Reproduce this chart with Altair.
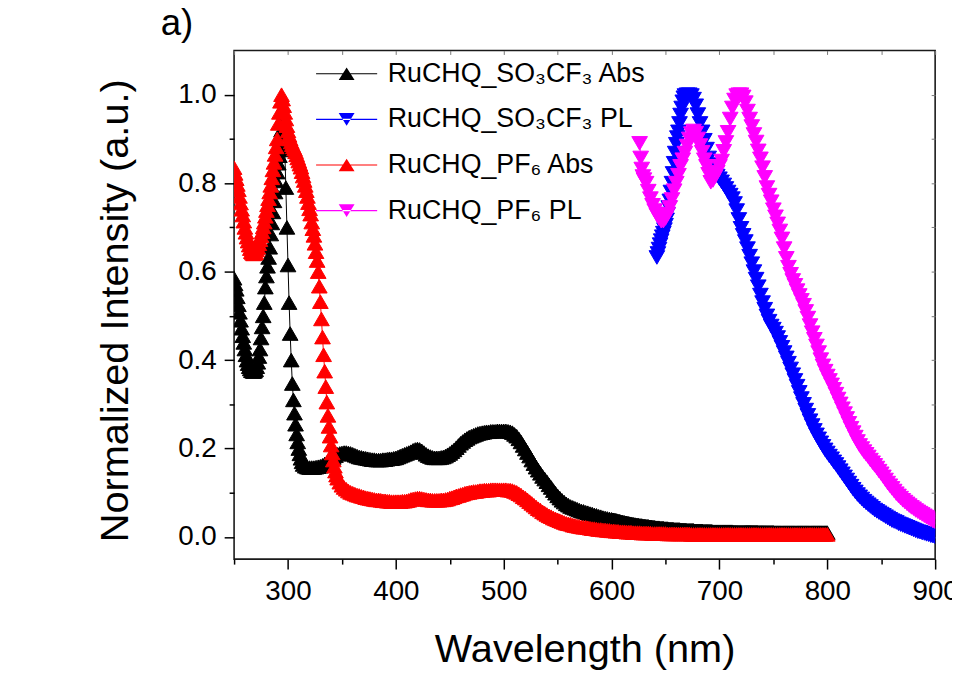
import altair as alt
import pandas as pd


def grid(a, b, step):
    return list(range(a, b + 1, step))


# ---------------- RuCHQ_SO3CF3 Abs (black) ----------------
so3_abs_nm = grid(250, 313, 1) + grid(314, 600, 2) + grid(601, 800, 1)
so3_abs_val = [
    0.585, 0.572, 0.560, 0.543, 0.525, 0.508, 0.490, 0.472, 0.455, 0.440,
    0.425, 0.412, 0.400, 0.392, 0.385, 0.380, 0.376, 0.375, 0.374,
    0.375, 0.378, 0.385, 0.395, 0.408, 0.425, 0.450, 0.475, 0.500, 0.530,
    0.565, 0.590, 0.612, 0.632, 0.655, 0.685, 0.710, 0.735, 0.760, 0.780,
    0.805, 0.825, 0.845, 0.862, 0.877, 0.920, 0.948, 0.910, 0.875, 0.790,
    0.700, 0.615, 0.530, 0.460, 0.400, 0.347, 0.310, 0.280, 0.255, 0.233,
    0.215, 0.200, 0.188, 0.178, 0.170,
    0.164, 0.160, 0.158, 0.157, 0.157, 0.157, 0.158, 0.159, 0.160, 0.162,
    0.165, 0.168, 0.172, 0.176, 0.180, 0.184, 0.187, 0.189, 0.190, 0.191,
    0.191, 0.190, 0.189, 0.187, 0.185, 0.183, 0.181, 0.180, 0.179, 0.178,
    0.177, 0.176, 0.175, 0.175, 0.174, 0.174, 0.174, 0.175, 0.175, 0.176,
    0.177, 0.177, 0.178, 0.179, 0.181, 0.183, 0.185, 0.187, 0.189, 0.191,
    0.193, 0.196, 0.198, 0.199, 0.198, 0.195, 0.191, 0.187, 0.184, 0.182,
    0.180, 0.179, 0.179, 0.179, 0.180, 0.181, 0.183, 0.186, 0.189, 0.193,
    0.197, 0.202, 0.207, 0.212, 0.216, 0.220, 0.223, 0.226, 0.228, 0.230,
    0.232, 0.234, 0.235, 0.236, 0.237, 0.238, 0.238, 0.239, 0.239, 0.239,
    0.240, 0.240, 0.240, 0.240, 0.240, 0.239, 0.238, 0.236, 0.232, 0.228,
    0.222, 0.215, 0.207, 0.199, 0.191, 0.183, 0.174, 0.166, 0.158, 0.151,
    0.144, 0.137, 0.131, 0.125, 0.118, 0.112, 0.105, 0.099, 0.093, 0.088,
    0.083, 0.079, 0.075, 0.072, 0.069, 0.067, 0.065, 0.063, 0.061, 0.059,
    0.058, 0.056, 0.055, 0.053, 0.052, 0.050, 0.049, 0.047, 0.046, 0.044,
    0.043, 0.042, 0.041, 0.040,
    0.039, 0.039, 0.038, 0.038, 0.037, 0.036, 0.036, 0.035, 0.034, 0.034,
    0.033, 0.033, 0.032, 0.032, 0.031, 0.031, 0.030, 0.030, 0.029, 0.029,
    0.028, 0.028, 0.027, 0.027, 0.027, 0.026, 0.026, 0.026, 0.025, 0.025,
    0.025, 0.024, 0.024, 0.024, 0.023, 0.023, 0.023, 0.022, 0.022, 0.022,
    0.021, 0.021, 0.021, 0.021, 0.020, 0.020, 0.020, 0.020, 0.019, 0.019,
    0.019, 0.019, 0.018, 0.018, 0.018, 0.018, 0.018, 0.017, 0.017, 0.017,
    0.017, 0.017, 0.017, 0.016, 0.016, 0.016, 0.016, 0.016, 0.016, 0.015,
    0.015, 0.015, 0.015, 0.015, 0.015, 0.015, 0.014, 0.014, 0.014, 0.014,
    0.014, 0.014, 0.014, 0.014, 0.013, 0.013, 0.013, 0.013, 0.013, 0.013,
    0.013, 0.013, 0.013, 0.012, 0.012, 0.012, 0.012, 0.012, 0.012, 0.012,
    0.012, 0.012, 0.012, 0.012, 0.012, 0.012, 0.012, 0.012, 0.012, 0.012,
    0.012, 0.012, 0.011, 0.011, 0.011, 0.011, 0.011, 0.011, 0.011, 0.011,
    0.011, 0.011, 0.011, 0.011, 0.011, 0.011, 0.011, 0.011, 0.011, 0.011,
    0.011, 0.011, 0.011, 0.011, 0.011, 0.0105, 0.0105, 0.0105, 0.0105, 0.0105,
    0.0105, 0.0105, 0.0105, 0.0105, 0.0105, 0.0105, 0.0105, 0.0105, 0.0105, 0.0105,
    0.010, 0.010, 0.010, 0.010, 0.010, 0.010, 0.010, 0.010, 0.010, 0.010,
    0.010, 0.010, 0.010, 0.010, 0.010, 0.010, 0.010, 0.010, 0.010, 0.010,
    0.010, 0.010, 0.010, 0.010, 0.010, 0.010, 0.010, 0.010, 0.010, 0.010,
    0.010, 0.010, 0.010, 0.010, 0.010, 0.010, 0.010, 0.010, 0.010, 0.010,
    0.010, 0.010, 0.010, 0.010, 0.010, 0.010, 0.010, 0.010, 0.010, 0.010,
]

# ---------------- RuCHQ_PF6 Abs (red) ----------------
pf6_abs_nm = grid(250, 345, 1) + grid(346, 600, 2) + grid(602, 800, 2)
pf6_abs_val = [
    0.835, 0.822, 0.810, 0.797, 0.785, 0.770, 0.755, 0.741, 0.728, 0.714,
    0.700, 0.689, 0.678, 0.669, 0.660, 0.652, 0.645, 0.642, 0.640, 0.641,
    0.643, 0.649, 0.655, 0.663, 0.672, 0.681, 0.690, 0.701, 0.712, 0.725,
    0.738, 0.751, 0.765, 0.780, 0.795, 0.812, 0.830, 0.847, 0.865, 0.882,
    0.900,
    0.935, 0.960, 0.985, 1.000, 0.990, 0.975, 0.960, 0.945, 0.930, 0.918,
    0.908, 0.900, 0.893, 0.887, 0.882, 0.877, 0.871, 0.864, 0.857, 0.850,
    0.843, 0.836, 0.826, 0.816, 0.806, 0.795, 0.783, 0.770, 0.756, 0.742,
    0.730, 0.712, 0.697, 0.682, 0.664, 0.645, 0.625, 0.600, 0.567, 0.532,
    0.493, 0.452, 0.412, 0.375, 0.340, 0.305, 0.275, 0.250, 0.228, 0.208,
    0.190, 0.174, 0.160, 0.149, 0.140,
    0.133, 0.124, 0.117, 0.112, 0.108, 0.104, 0.101, 0.099, 0.097, 0.095,
    0.094, 0.092, 0.091, 0.089, 0.088, 0.087, 0.086, 0.085, 0.084, 0.084,
    0.083, 0.082, 0.082, 0.081, 0.081, 0.080, 0.080, 0.080, 0.080, 0.080,
    0.081, 0.081, 0.082, 0.083, 0.085, 0.086, 0.087, 0.088, 0.088, 0.087,
    0.086, 0.085, 0.084, 0.084, 0.083, 0.083, 0.083, 0.083, 0.084, 0.084,
    0.085, 0.086, 0.088, 0.089, 0.091, 0.093, 0.094, 0.096, 0.097, 0.099,
    0.100, 0.101, 0.102, 0.103, 0.103, 0.104, 0.105, 0.105, 0.106, 0.106,
    0.106, 0.107, 0.107, 0.107, 0.107, 0.107, 0.107, 0.107, 0.107, 0.106,
    0.106, 0.105, 0.103, 0.101, 0.098, 0.095, 0.091, 0.088, 0.084, 0.080,
    0.076, 0.072, 0.068, 0.064, 0.061, 0.057, 0.054, 0.051, 0.048, 0.046,
    0.043, 0.041, 0.039, 0.037, 0.035, 0.033, 0.031, 0.030, 0.029, 0.027,
    0.026, 0.025, 0.024, 0.023, 0.022, 0.022, 0.021, 0.020, 0.019, 0.019,
    0.018, 0.017, 0.017, 0.016, 0.016, 0.015, 0.015, 0.014,
    0.014, 0.013, 0.013, 0.012, 0.012, 0.012, 0.011, 0.011, 0.011, 0.010,
    0.010, 0.010, 0.010, 0.009, 0.009, 0.009, 0.009, 0.009, 0.008, 0.008,
    0.008, 0.008, 0.008, 0.008, 0.008, 0.007, 0.007, 0.007, 0.007, 0.007,
    0.007, 0.007, 0.007, 0.007, 0.007, 0.007, 0.006, 0.006, 0.006, 0.006,
    0.006, 0.006, 0.006, 0.006, 0.006, 0.006, 0.006, 0.006, 0.006, 0.006,
    0.006, 0.006, 0.006, 0.006, 0.006, 0.006, 0.006, 0.006, 0.006, 0.006,
    0.006, 0.006, 0.006, 0.006, 0.006, 0.006, 0.006, 0.006, 0.006, 0.006,
    0.006, 0.006, 0.006, 0.006, 0.006, 0.006, 0.006, 0.006, 0.006, 0.006,
    0.006, 0.006, 0.006, 0.006, 0.006, 0.006, 0.006, 0.006, 0.006, 0.006,
    0.006, 0.006, 0.006, 0.006, 0.006, 0.006, 0.006, 0.006, 0.006, 0.006,
]

# ---------------- RuCHQ_SO3CF3 PL (blue) ----------------
so3_pl_nm = grid(642, 668, 1) + grid(670, 900, 2)
so3_pl_val = [
    0.632, 0.641, 0.651, 0.661, 0.670, 0.679, 0.687, 0.695, 0.705, 0.717,
    0.730, 0.745, 0.760, 0.780, 0.800, 0.822, 0.845, 0.868, 0.888, 0.903,
    0.916, 0.935, 0.954, 0.970, 0.984, 0.993, 0.998,
    1.000, 1.000, 0.998, 0.990, 0.975, 0.955, 0.935, 0.916, 0.897, 0.877,
    0.857, 0.842, 0.831, 0.822, 0.816, 0.810, 0.803, 0.796, 0.788, 0.780,
    0.773, 0.765, 0.754, 0.738, 0.718, 0.698, 0.682, 0.668, 0.652, 0.635,
    0.618, 0.600, 0.583, 0.566, 0.547, 0.530, 0.515, 0.500, 0.488, 0.477,
    0.470, 0.461, 0.451, 0.440, 0.429, 0.417, 0.405, 0.393, 0.380, 0.367,
    0.354, 0.341, 0.327, 0.313, 0.300, 0.287, 0.275, 0.263, 0.252, 0.241,
    0.231, 0.222, 0.213, 0.205, 0.197, 0.190, 0.183, 0.177, 0.170, 0.164,
    0.157, 0.150, 0.143, 0.136, 0.129, 0.122, 0.115, 0.108, 0.102, 0.096,
    0.091, 0.086, 0.081, 0.077, 0.073, 0.069, 0.065, 0.061, 0.058, 0.055,
    0.052, 0.049, 0.046, 0.043, 0.040, 0.037, 0.035, 0.033, 0.030, 0.028,
    0.026, 0.024, 0.022, 0.020, 0.018, 0.016, 0.014, 0.012, 0.011, 0.009,
    0.008, 0.006, 0.005, 0.003, 0.002, 0.000,
]

# ---------------- RuCHQ_PF6 PL (magenta) ----------------
pf6_pl_nm = grid(626, 629, 1) + grid(630, 900, 2)
pf6_pl_val = [
    0.890, 0.857, 0.832, 0.815,
    0.808, 0.800, 0.782, 0.765, 0.750, 0.738, 0.728, 0.720, 0.714, 0.714,
    0.720, 0.730, 0.745, 0.763, 0.783, 0.800, 0.818, 0.838, 0.853, 0.868,
    0.884, 0.900, 0.912, 0.918, 0.913, 0.900, 0.885, 0.870, 0.853, 0.838,
    0.820, 0.802, 0.806, 0.815, 0.825, 0.838, 0.850, 0.872, 0.892, 0.915,
    0.945, 0.970, 0.988, 0.998, 1.000, 1.000, 0.995, 0.982, 0.963, 0.945,
    0.928, 0.910, 0.893, 0.873, 0.855, 0.835, 0.813, 0.790, 0.773, 0.758,
    0.740, 0.724, 0.708, 0.692, 0.674, 0.652, 0.630, 0.610, 0.594, 0.580,
    0.569, 0.557, 0.546, 0.535, 0.524, 0.510, 0.495, 0.478, 0.462, 0.447,
    0.432, 0.417, 0.401, 0.387, 0.375, 0.364, 0.354, 0.344, 0.334, 0.323,
    0.312, 0.301, 0.290, 0.279, 0.268, 0.257, 0.246, 0.236, 0.226, 0.216,
    0.207, 0.200, 0.193, 0.187, 0.181, 0.174, 0.168, 0.162, 0.156, 0.149,
    0.143, 0.136, 0.129, 0.122, 0.116, 0.110, 0.104, 0.098, 0.093, 0.088,
    0.083, 0.079, 0.075, 0.071, 0.067, 0.064, 0.060, 0.057, 0.054, 0.051,
    0.048, 0.045, 0.042, 0.039, 0.036, 0.034,
]

series_names = ["RuCHQ_SO\u2083CF\u2083 Abs", "RuCHQ_SO\u2083CF\u2083 PL",
                "RuCHQ_PF\u2086 Abs", "RuCHQ_PF\u2086 PL"]
series_colors = ["#000000", "#0000ff", "#ff0000", "#ff00ff"]
series_kind = ["Abs", "PL", "Abs", "PL"]
panel_label = ["a)"]

x_ticks = [300, 400, 500, 600, 700, 800, 900]
x_minor = [250, 350, 450, 550, 650, 750, 850]
x_top = [250, 300, 350, 400, 450, 500, 550, 600, 650, 700, 750, 800, 850, 900]
y_ticks = [0.0, 0.2, 0.4, 0.6, 0.8, 1.0]
y_minor = [0.1, 0.3, 0.5, 0.7, 0.9]
y_right = [0.0, 0.1, 0.2, 0.3, 0.4, 0.5, 0.6, 0.7, 0.8, 0.9, 1.0]

series_data = [
    (so3_abs_nm, so3_abs_val),
    (so3_pl_nm, so3_pl_val),
    (pf6_abs_nm, pf6_abs_val),
    (pf6_pl_nm, pf6_pl_val),
]
rows = []
for i, (nm, val) in enumerate(series_data):
    if len(nm) != len(val):
        raise SystemExit(f"length mismatch in series {i}: {len(nm)} vs {len(val)}")
    for w, v in zip(nm, val):
        rows.append({"series": series_names[i], "kind": series_kind[i],
                     "col": series_colors[i], "wl": w, "v": v})
df = pd.DataFrame(rows)

FONT = "Liberation Sans"
W, H = 707, 513

x_scale = alt.Scale(domain=[250, 900], nice=False, zero=False)
y_scale = alt.Scale(domain=[-0.05, 1.1], nice=False, zero=False)

# legend symbol: thin line with a triangle on it
up_path = "M-3.85,-0.07L3.85,-0.07L3.85,0.07L-3.85,0.07ZM0,-0.8L1,0.8L-1,0.8Z"
down_path = "M-3.85,-0.07L3.85,-0.07L3.85,0.07L-3.85,0.07ZM0,0.8L1,-0.8L-1,-0.8Z"
legend_paths = [up_path, down_path, up_path, down_path]

base = alt.Chart(df)

lines = base.mark_line(strokeWidth=1, clip=True).encode(
    x=alt.X("wl:Q", scale=x_scale, axis=None),
    y=alt.Y("v:Q", scale=y_scale, axis=None),
    color=alt.Color("col:N", scale=None),
    detail="series:N",
)

x_axis_major = alt.Axis(
    orient="bottom", values=x_ticks, format="d", labelFontSize=28, labelPadding=9,
    tickSize=10, tickWidth=1.5, domain=False, grid=False, labelFlush=False,
    labelOverlap=False, title="Wavelength (nm)", titleFontSize=40,
    titleFontWeight="normal", titleBaseline="alphabetic", titleY=103,
)
y_axis_major = alt.Axis(
    orient="left", values=y_ticks, format=".1f", labelFontSize=28, labelPadding=8,
    tickSize=10, tickWidth=1.5, domain=False, grid=False, labelFlush=False,
    labelOverlap=False, title="Normalized Intensity (a.u.)", titleFontSize=40,
    titleFontWeight="normal", titleBaseline="alphabetic", titleAngle=270,
    titleAlign="center", titleX=-107, titleY=262,
)

pts_up = base.transform_filter(alt.datum.kind == "Abs").mark_point(
    filled=True, shape="triangle-up", size=250, opacity=1, strokeWidth=1,
    strokeJoin="round", clip=True
).encode(
    x=alt.X("wl:Q", scale=x_scale, axis=x_axis_major),
    y=alt.Y("v:Q", scale=y_scale, axis=y_axis_major),
    color=alt.Color("col:N", scale=None),
    stroke=alt.Stroke("col:N", scale=None),
)

pts_down = base.transform_filter(alt.datum.kind == "PL").mark_point(
    filled=True, shape="triangle-down", size=250, opacity=1, strokeWidth=1,
    strokeJoin="round", clip=True
).encode(
    x=alt.X("wl:Q", scale=x_scale, axis=None),
    y=alt.Y("v:Q", scale=y_scale, axis=None),
    color=alt.Color("col:N", scale=None),
    stroke=alt.Stroke("col:N", scale=None),
)

leg = alt.Legend(
    title=None, orient="none", legendX=100, legendY=10, direction="vertical",
    labelFontSize=27, labelFont=FONT, labelColor="black", labelOffset=28,
    labelLimit=500, symbolSize=256, symbolStrokeWidth=0, symbolOpacity=1,
    rowPadding=18, padding=0,
)

legend_layer = base.transform_filter("false").mark_point(
    filled=True, opacity=1, strokeWidth=0
).encode(
    x=alt.X("wl:Q", scale=x_scale, axis=alt.Axis(
        orient="bottom", values=x_minor, labels=False, tickSize=5, tickWidth=1.5,
        domain=False, grid=False, title=None)),
    y=alt.Y("v:Q", scale=y_scale, axis=alt.Axis(
        orient="left", values=y_minor, labels=False, tickSize=5, tickWidth=1.5,
        domain=False, grid=False, title=None)),
    fill=alt.Fill("series:N", scale=alt.Scale(domain=series_names, range=series_colors), legend=leg),
    shape=alt.Shape("series:N", scale=alt.Scale(domain=series_names, range=legend_paths), legend=leg),
)

frame_layer = base.transform_filter("false").mark_point().encode(
    x=alt.X("wl:Q", scale=x_scale, axis=alt.Axis(
        orient="top", values=x_top, labels=False, tickSize=4, tickWidth=1,
        tickColor="#777777", offset=-4, domain=False, grid=False, title=None,
        minExtent=0, maxExtent=0)),
    y=alt.Y("v:Q", scale=y_scale, axis=alt.Axis(
        orient="right", values=y_right, labels=False, tickSize=4, tickWidth=1,
        tickColor="#777777", offset=-4, domain=False, grid=False, title=None,
        minExtent=0, maxExtent=0)),
)

label_layer = alt.Chart(pd.DataFrame({"t": panel_label})).mark_text(
    font=FONT, fontSize=37, color="black", align="left", baseline="alphabetic"
).encode(
    x=alt.value(-74), y=alt.value(-16), text="t:N"
)

chart = alt.layer(lines, pts_up, pts_down, legend_layer, frame_layer, label_layer).resolve_axis(
    x="independent", y="independent"
).properties(
    width=W, height=H,
    background="white",
    autosize=alt.AutoSizeParams(type="none"),
    padding={"left": 228, "top": 40, "right": 17, "bottom": 112},
).configure_view(
    stroke="#1a1a1a", strokeWidth=1.6
).configure_axis(
    labelFont=FONT, titleFont=FONT, labelColor="black", titleColor="black",
    tickColor="black", grid=False,
)

chart.save("out.html", embed_options={"renderer": "svg", "actions": False})
